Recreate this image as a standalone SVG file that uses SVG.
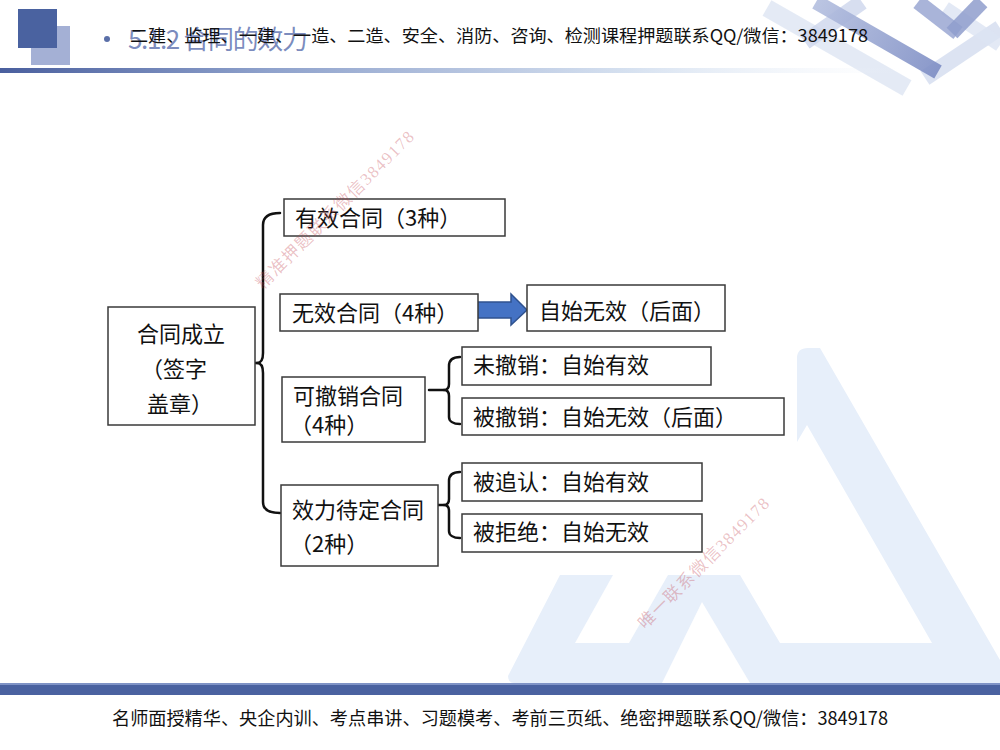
<svg xmlns="http://www.w3.org/2000/svg" width="1000" height="750" viewBox="0 0 1000 750">
<defs>
<linearGradient id="hbar" x1="0" y1="0" x2="1" y2="0">
<stop offset="0" stop-color="#4A5F9E"/>
<stop offset="0.3" stop-color="#8FA2CC"/>
<stop offset="0.7" stop-color="#D6E1F0"/>
<stop offset="1" stop-color="#EEF3FA" stop-opacity="0"/>
</linearGradient>
<linearGradient id="bandA" gradientUnits="userSpaceOnUse" x1="816" y1="2" x2="938" y2="72">
<stop offset="0" stop-color="#B4BFDF"/>
<stop offset="1" stop-color="#7D8DC4"/>
</linearGradient>
<style>
.box{fill:#fff;stroke:#3a3a3a;stroke-width:1.5}
.t{font-family:"Noto Sans CJK SC","Noto Sans",sans-serif;font-size:22px;fill:#111}
.br{fill:none;stroke:#111;stroke-width:2.5;stroke-linecap:round;stroke-linejoin:round}
.wm{font-family:"Liberation Serif","Noto Sans CJK SC",serif;font-size:17px;fill:#C2414E;fill-opacity:0.33}
.logo{fill:#E7EFFA}
.hd{font-family:"Noto Sans CJK SC",sans-serif;fill:#111}
</style>
</defs>
<rect width="1000" height="750" fill="#fff"/>

<g id="background">
<path class="logo" d="M797,358 Q797,348 808,348 L820,348 L1000,660 L1000,683 L514,683 Q508,683 508,676 L560,575 L797,575 Z"/>
<polygon fill="#fff" points="807,425 932,643 780,643 740,575 797,575 797,442"/>
<polygon fill="#fff" points="613,575 668,575 629,643 575,643"/>
<polygon fill="#fff" points="702,602 662,683 750,683"/>
<g fill="none" stroke-linecap="butt">
<line x1="767" y1="8" x2="907" y2="88" stroke="#DDE5F3" stroke-width="18" stroke-opacity="0.8"/>
<line x1="862" y1="2" x2="805" y2="42" stroke="#CDD6EC" stroke-width="16" stroke-opacity="0.8"/>
<line x1="1000" y1="28" x2="925" y2="78" stroke="#D3DCEF" stroke-width="16" stroke-opacity="0.8"/>
<line x1="945" y1="8" x2="1000" y2="45" stroke="#DCE4F2" stroke-width="14" stroke-opacity="0.8"/>
<line x1="816" y1="2" x2="938" y2="72" stroke="url(#bandA)" stroke-width="15" stroke-opacity="0.9"/>
<line x1="918" y1="2" x2="958" y2="33" stroke="#9AA7D2" stroke-width="15" stroke-opacity="0.85"/>
<line x1="982" y1="2" x2="952" y2="33" stroke="#8F9DCC" stroke-width="15" stroke-opacity="0.85"/>
</g>
</g>

<g id="header">
<rect x="31" y="26" width="39" height="39" fill="#A4B0D5"/>
<rect x="18" y="9" width="39" height="39" fill="#4A62A0"/>
<rect x="0" y="68" width="900" height="5" fill="url(#hbar)"/>
<circle cx="107" cy="39" r="3" fill="#5A6FA8"/>
<text x="128" y="49" class="hd" font-size="26" textLength="180" style="fill:#6477B2;fill-opacity:0.85">5.1.2 合同的效力</text>
<text x="130" y="42" class="hd" font-size="17" textLength="738" lengthAdjust="spacingAndGlyphs">二建、监理、一建、一造、二造、安全、消防、咨询、检测课程押题联系QQ/微信：3849178</text>
</g>

<g id="footer">
<rect x="0" y="683" width="1000" height="12" fill="#4A62A0"/>
<rect x="0" y="683" width="1000" height="2" fill="#7F93C6"/>
<text x="112" y="725" class="hd" font-size="18" textLength="776" lengthAdjust="spacingAndGlyphs">名师面授精华、央企内训、考点串讲、习题模考、考前三页纸、绝密押题联系QQ/微信：3849178</text>
</g>

<g id="connectors">
<line class="br" x1="238" y1="363" x2="257" y2="363"/>
<path class="br" d="M280,213 C270,213 263,216 263,225 L263,353 C263,360 261,363 257,363 C261,363 263,366 263,373 L263,502 C263,510 270,513 280,513"/>
<line class="br" x1="429" y1="390" x2="444" y2="390"/>
<path class="br" d="M460,357 C453,357 449,360 449,366 L449,384 C449,388 447,390 444,390 C447,390 449,392 449,396 L449,417 C449,421 453,424 460,424"/>
<line class="br" x1="432" y1="505" x2="444" y2="505"/>
<path class="br" d="M460,472 C453,472 449,475 449,481 L449,499 C449,503 447,505 444,505 C447,505 449,507 449,511 L449,531 C449,535 453,538 460,538"/>
<polygon id="arrow" points="477,302 511,302 511,294 527,310 511,325 511,318 477,318" fill="#4472C4" stroke="#2F528F" stroke-width="1.5" stroke-linejoin="miter"/>
</g>

<g id="n-root">
<rect class="box" x="108" y="307" width="147" height="118"/>
<text class="t" x="137" y="342">合同成立</text>
<text class="t" x="141" y="377">（签字</text>
<text class="t" x="147" y="412">盖章）</text>
</g>
<g id="n-valid">
<rect class="box" x="284" y="199" width="221" height="37"/>
<text class="t" x="295" y="226">有效合同（3种）</text>
</g>
<g id="n-void">
<rect class="box" x="280" y="294" width="198" height="37"/>
<text class="t" x="292" y="321">无效合同（4种）</text>
</g>
<g id="n-void-result">
<rect class="box" x="527" y="285" width="198" height="46"/>
<text class="t" x="539" y="319">自始无效（后面）</text>
</g>
<g id="n-revocable">
<rect class="box" x="282" y="377" width="143" height="65"/>
<text class="t" x="293" y="404">可撤销合同</text>
<text class="t" x="290" y="433">（4种）</text>
</g>
<g id="n-not-revoked">
<rect class="box" x="462" y="347" width="249" height="38"/>
<text class="t" x="473" y="373">未撤销：自始有效</text>
</g>
<g id="n-revoked">
<rect class="box" x="462" y="398" width="322" height="37"/>
<text class="t" x="473" y="425">被撤销：自始无效（后面）</text>
</g>
<g id="n-pending">
<rect class="box" x="281" y="485" width="157" height="81"/>
<text class="t" x="292" y="518">效力待定合同</text>
<text class="t" x="290" y="552">（2种）</text>
</g>
<g id="n-ratified">
<rect class="box" x="462" y="463" width="240" height="38"/>
<text class="t" x="473" y="490">被追认：自始有效</text>
</g>
<g id="n-rejected">
<rect class="box" x="462" y="514" width="240" height="38"/>
<text class="t" x="473" y="540">被拒绝：自始无效</text>
</g>

<g id="watermarks">
<text class="wm" x="263" y="290" textLength="215" transform="rotate(-45 263 290)">精准押题联系微信3849178</text>
<text class="wm" x="645" y="630" textLength="177" transform="rotate(-45 645 630)">唯一联系微信3849178</text>
</g>
</svg>
